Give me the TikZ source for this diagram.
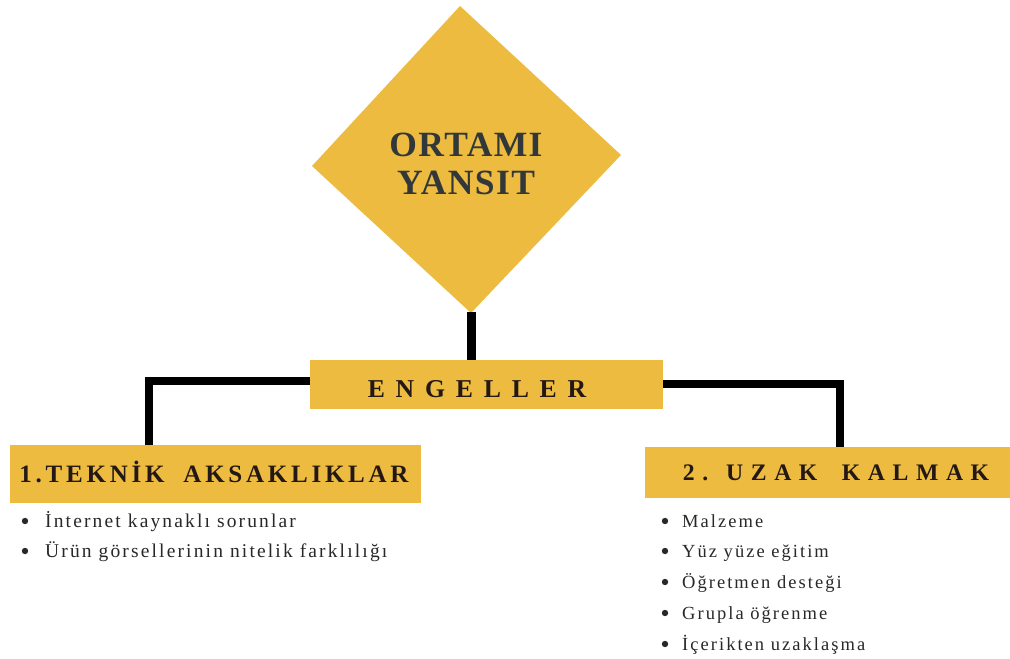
\documentclass[tikz,border=0pt]{standalone}
\usepackage{fontspec}
\usetikzlibrary{calc}
\setmainfont{Liberation Serif}
\newfontfamily\titlefont[LetterSpace=4]{Liberation Serif}
\newfontfamily\engfont[LetterSpace=42]{Liberation Serif}
\newfontfamily\onefont[LetterSpace=15]{Liberation Serif}
\newfontfamily\twofont[LetterSpace=32]{Liberation Serif}
\newfontfamily\itemfont[LetterSpace=11]{Liberation Serif}
\definecolor{ochre}{RGB}{236,187,64}
\definecolor{slate}{RGB}{50,56,57}
\definecolor{ink}{RGB}{35,24,21}
\definecolor{itemgray}{RGB}{40,40,40}
\tikzset{
  bar/.style={fill=ochre, draw=none, inner sep=0pt},
  link/.style={draw=black, line width=7.5pt},
  head/.style={text=ink, inner sep=0pt, anchor=base},
  entry/.style={text=itemgray, inner sep=0pt, anchor=base west,
    font=\itemfont\fontsize{18.5}{22}\selectfont},
  bigentry/.style={entry, font=\itemfont\fontsize{19.5}{23}\selectfont},
}
\begin{document}
\begin{tikzpicture}[x=1pt, y=-1pt]
\useasboundingbox (0,0) rectangle (1010,659);

% central diamond
\fill[ochre] (460,6) -- (621,155) -- (471,313) -- (312,166) -- cycle;
\coordinate (dbot) at (471,312);
\node[text=slate, align=center, inner sep=0pt,
  font=\titlefont\bfseries\fontsize{35.5}{37.5}\selectfont] (title) at (466,164)
  {ORTAMI\\YANSIT};

% ENGELLER bar
\node[bar, minimum width=353pt, minimum height=49pt] (eng) at (486.5,384.5) {};
\node[head, font=\engfont\bfseries\fontsize{25.7}{30}\selectfont] (engt) at (477,397) {ENGELLER};

% side bars
\node[bar, minimum width=411pt, minimum height=58pt] (b1) at (215.5,474) {};
\node[head, font=\onefont\bfseries\fontsize{25}{30}\selectfont] (b1t) at (214,482) {1.TEKNİK\hspace{9pt} AKSAKLIKLAR};
\node[bar, minimum width=365pt, minimum height=51pt] (b2) at (827.5,472.5) {};
\node[head, font=\twofont\bfseries\fontsize{23.7}{30}\selectfont] (b2t) at (836,480) {2. UZAK\hspace{11pt} KALMAK};

% connectors
\draw[link, line width=9pt] (dbot) -- (eng.north -| dbot);
\coordinate (lc) at (149,381);
\coordinate (rc) at (840,384);
\draw[link] (eng.west |- lc) -- (lc) -- (b1.north -| lc);
\draw[link] (eng.east |- rc) -- (rc) -- (b2.north -| rc);

% bullet lists
\node[bigentry] (i1) at (45,527) {İnternet kaynaklı sorunlar};
\node[bigentry] (i2) at (45,557) {Ürün görsellerinin nitelik farklılığı};
\node[entry] (j1) at (682,527) {Malzeme};
\node[entry] (j2) at (682,557) {Yüz yüze eğitim};
\node[entry] (j3) at (682,588) {Öğretmen desteği};
\node[entry] (j4) at (682,619) {Grupla öğrenme};
\node[entry] (j5) at (682,650) {İçerikten uzaklaşma};
\foreach \n in {i1,i2}
  \fill[itemgray] ($(\n.base west)+(-20,-6)$) circle (3.2pt);
\foreach \n in {j1,j2,j3,j4,j5}
  \fill[itemgray] ($(\n.base west)+(-17,-6)$) circle (3.2pt);
\end{tikzpicture}
\end{document}
